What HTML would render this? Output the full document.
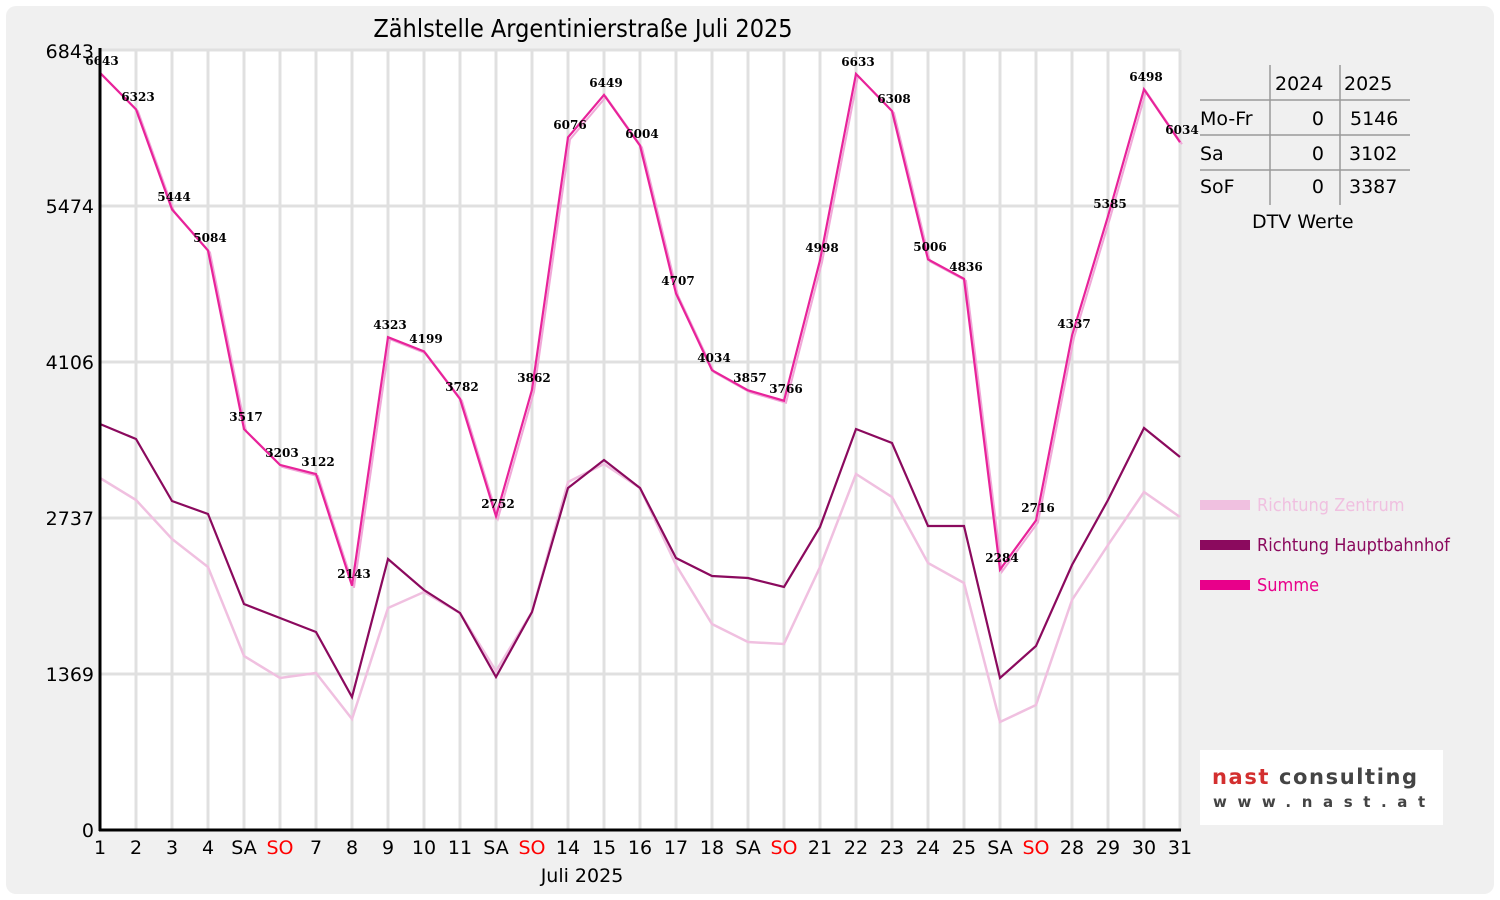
<!DOCTYPE html>
<html><head><meta charset="utf-8"><style>
html,body{margin:0;padding:0;background:#fff;}
svg{display:block;font-family:"DejaVu Sans","Liberation Sans",sans-serif;}
.v{font-family:"DejaVu Serif","Liberation Serif",serif;font-weight:bold;font-size:12px;fill:#000;text-anchor:middle;}
.xl{font-size:19px;text-anchor:middle;fill:#000;}
.yl{font-size:19px;text-anchor:end;fill:#000;}
.t{font-size:19px;fill:#000;}
</style></head><body>
<svg width="1500" height="900" viewBox="0 0 1500 900">
<rect x="6" y="6" width="1488" height="888" rx="10" fill="#f0f0f0"/>
<rect x="100" y="50" width="1080" height="780" fill="#fff"/>
<g stroke="#e0e0e0" stroke-width="3">
<path d="M136 50V830M172 50V830M208 50V830M244 50V830M280 50V830M316 50V830M352 50V830M388 50V830M424 50V830M460 50V830M496 50V830M532 50V830M568 50V830M604 50V830M640 50V830M676 50V830M712 50V830M748 50V830M784 50V830M820 50V830M856 50V830M892 50V830M928 50V830M964 50V830M1000 50V830M1036 50V830M1072 50V830M1108 50V830M1144 50V830M1180 50V830"/>
<path d="M100 50H1180M100 206H1180M100 362H1180M100 518H1180M100 674H1180"/>
</g>
<text x="583" y="37" font-size="25" text-anchor="middle" font-family="DejaVu Sans Condensed, DejaVu Sans, sans-serif">Zählstelle Argentinierstraße Juli 2025</text>
<polyline fill="none" stroke="#f0c0e0" stroke-width="2.5" points="100,478 136,500 172,539 208,567 244,656 280,678 316,673 352,719 388,608 424,592 460,613 496,671 532,612 568,482 604,464 640,488 676,565 712,624 748,642 784,644 820,567 856,474 892,497 928,563 964,583 1000,722 1036,705 1072,600 1108,545 1144,492 1180,517"/>
<polyline fill="none" stroke="#8b0a5e" stroke-width="2.2" points="100,424 136,439 172,501 208,514 244,604 280,618 316,632 352,697 388,559 424,590 460,613 496,677 532,612 568,488 604,460 640,488 676,558 712,576 748,578 784,587 820,527 856,429 892,443 928,526 964,526 1000,678 1036,646 1072,565 1108,500 1144,428 1180,457"/>
<polyline fill="none" stroke="#f0a8d8" stroke-width="2" transform="translate(2,2)" points="100,72.8 136,109.3 172,209.4 208,250.5 244,429.1 280,464.9 316,474.1 352,585.7 388,337.2 424,351.4 460,398.9 496,516.3 532,389.8 568,137.4 604,94.9 640,145.6 676,293.5 712,370.2 748,390.3 784,400.7 820,260.3 856,73.9 892,111 928,259.4 964,278.8 1000,569.6 1036,520.4 1072,335.6 1108,216.2 1144,89.3 1180,142.2"/>
<polyline fill="none" stroke="#e8239a" stroke-width="2.2" points="100,72.8 136,109.3 172,209.4 208,250.5 244,429.1 280,464.9 316,474.1 352,585.7 388,337.2 424,351.4 460,398.9 496,516.3 532,389.8 568,137.4 604,94.9 640,145.6 676,293.5 712,370.2 748,390.3 784,400.7 820,260.3 856,73.9 892,111 928,259.4 964,278.8 1000,569.6 1036,520.4 1072,335.6 1108,216.2 1144,89.3 1180,142.2"/>
<g class="v">
<text x="102" y="65">6643</text><text x="138" y="101">6323</text><text x="174" y="201">5444</text><text x="210" y="242">5084</text><text x="246" y="421">3517</text><text x="282" y="457">3203</text><text x="318" y="466">3122</text><text x="354" y="578">2143</text><text x="390" y="329">4323</text><text x="426" y="343">4199</text><text x="462" y="391">3782</text><text x="498" y="508">2752</text><text x="534" y="382">3862</text><text x="570" y="129">6076</text><text x="606" y="87">6449</text><text x="642" y="138">6004</text><text x="678" y="285">4707</text><text x="714" y="362">4034</text><text x="750" y="382">3857</text><text x="786" y="393">3766</text><text x="822" y="252">4998</text><text x="858" y="66">6633</text><text x="894" y="103">6308</text><text x="930" y="251">5006</text><text x="966" y="271">4836</text><text x="1002" y="562">2284</text><text x="1038" y="512">2716</text><text x="1074" y="328">4337</text><text x="1110" y="208">5385</text><text x="1146" y="81">6498</text><text x="1182" y="134">6034</text>
</g>
<g stroke="#000" stroke-width="3"><path d="M100 48V831M99 830H1181"/></g>
<g class="yl"><text x="94" y="58">6843</text><text x="94" y="213">5474</text><text x="94" y="369">4106</text><text x="94" y="525">2737</text><text x="94" y="681">1369</text><text x="94" y="837">0</text></g>
<g class="xl">
<text x="100" y="854">1</text><text x="136" y="854">2</text><text x="172" y="854">3</text><text x="208" y="854">4</text><text x="244" y="854">SA</text><text x="280" y="854" fill="#f00">SO</text><text x="316" y="854">7</text><text x="352" y="854">8</text><text x="388" y="854">9</text><text x="424" y="854">10</text><text x="460" y="854">11</text><text x="496" y="854">SA</text><text x="532" y="854" fill="#f00">SO</text><text x="568" y="854">14</text><text x="604" y="854">15</text><text x="640" y="854">16</text><text x="676" y="854">17</text><text x="712" y="854">18</text><text x="748" y="854">SA</text><text x="784" y="854" fill="#f00">SO</text><text x="820" y="854">21</text><text x="856" y="854">22</text><text x="892" y="854">23</text><text x="928" y="854">24</text><text x="964" y="854">25</text><text x="1000" y="854">SA</text><text x="1036" y="854" fill="#f00">SO</text><text x="1072" y="854">28</text><text x="1108" y="854">29</text><text x="1144" y="854">30</text><text x="1180" y="854">31</text>
<text x="582" y="882">Juli 2025</text>
</g>
<g stroke="#999" stroke-width="1.5"><path d="M1270 65V205M1340 65V205M1200 100H1410M1200 135H1410M1200 170H1410"/></g>
<g class="t">
<text x="1275" y="90">2024</text><text x="1344" y="90">2025</text>
<text x="1200" y="125">Mo-Fr</text><text x="1324" y="125" text-anchor="end">0</text><text x="1350" y="125">5146</text>
<text x="1200" y="160">Sa</text><text x="1324" y="160" text-anchor="end">0</text><text x="1349" y="160">3102</text>
<text x="1200" y="193">SoF</text><text x="1324" y="193" text-anchor="end">0</text><text x="1349" y="193">3387</text>
<text x="1252" y="228">DTV Werte</text>
</g>
<rect x="1200" y="500" width="50" height="10" fill="#f0c0e0"/>
<rect x="1200" y="540" width="50" height="10" fill="#8b0a5e"/>
<rect x="1200" y="580" width="50" height="10" fill="#e8008a"/>
<g font-size="18" font-family="DejaVu Sans Condensed, DejaVu Sans, sans-serif">
<text x="1257" y="511" fill="#f0c0e0">Richtung Zentrum</text>
<text x="1257" y="551" fill="#8b0a5e">Richtung Hauptbahnhof</text>
<text x="1257" y="591" fill="#e8008a">Summe</text>
</g>
<rect x="1200" y="750" width="243" height="75" fill="#fff"/>
<text x="1212" y="784" font-size="21" font-weight="bold" letter-spacing="1.6" font-family="DejaVu Sans, sans-serif" fill="#d32f2f">nast <tspan fill="#444">consulting</tspan></text>
<text x="1213" y="807" font-size="15" font-weight="bold" fill="#444" letter-spacing="10.6">www.nast.at</text>
</svg>
</body></html>
